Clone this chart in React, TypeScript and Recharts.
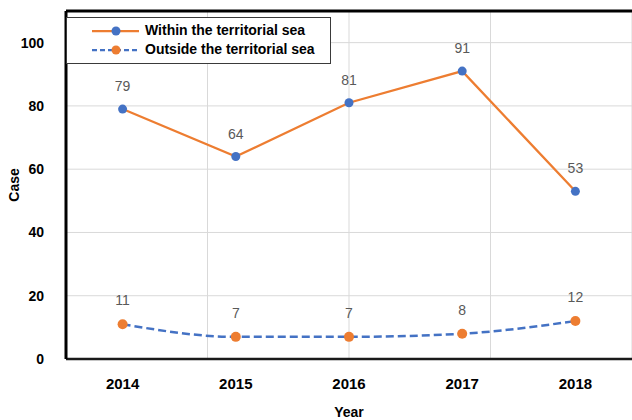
import React from 'react';
import { LineChart, Line, XAxis, YAxis, CartesianGrid, Legend, LabelList, ReferenceLine } from 'recharts';

const years = ['2014', '2015', '2016', '2017', '2018'];
const withinSea = [79, 64, 81, 91, 53];
const outsideSea = [11, 7, 7, 8, 12];
const yTicks = [0, 20, 40, 60, 80, 100];
const seriesNames = ['Within the territorial sea', 'Outside the territorial sea'];

const data = years.map((y, i) => ({ year: y, within: withinSea[i], outside: outsideSea[i] }));

const ORANGE = '#ED7D31';
const BLUE = '#4472C4';
const FONT = '"Liberation Sans", Arial, sans-serif';

const LegendBox = () => (
  <div
    style={{
      width: 263,
      height: 45,
      border: '1.5px solid #3a3a3a',
      background: '#fff',
      fontFamily: FONT,
      fontWeight: 700,
      fontSize: 14,
      color: '#000',
      boxSizing: 'content-box',
    }}
  >
    {[0, 1].map((k) => (
      <div key={k} style={{ display: 'flex', alignItems: 'center', height: 19, marginTop: k === 0 ? 3 : 0 }}>
        <svg width={50} height={12} style={{ marginLeft: 25, marginRight: 3 }}>
          <line
            x1={0}
            y1={6}
            x2={47}
            y2={6}
            stroke={k === 0 ? ORANGE : BLUE}
            strokeWidth={2.25}
            strokeDasharray={k === 0 ? undefined : '5 3'}
          />
          <circle cx={24} cy={6} r={4.5} fill={k === 0 ? BLUE : ORANGE} />
        </svg>
        <span style={{ lineHeight: '19px', whiteSpace: 'nowrap' }}>{seriesNames[k]}</span>
      </div>
    ))}
  </div>
);

const CaseLabel = (props: any) => {
  const vb = props.viewBox || {};
  const cx = 14;
  const cy = (vb.y || 0) + (vb.height || 0) / 2;
  return (
    <text
      x={cx}
      y={cy}
      transform={`rotate(-90 ${cx} ${cy})`}
      textAnchor="middle"
      dominantBaseline="central"
      fontFamily={FONT}
      fontWeight={700}
      fontSize={14}
      fill="#000"
    >
      Case
    </text>
  );
};

export default function App() {
  return (
    <div style={{ position: 'absolute', left: 0, top: 0, width: 632, height: 420, background: '#fff' }}>
      <LineChart width={632} height={420} data={data} margin={{ top: 11, right: 0, bottom: 0, left: 0 }}>
        <XAxis xAxisId="grid" type="number" domain={[0, 5]} ticks={[1, 2, 3, 4]} hide allowDataOverflow />
        <CartesianGrid xAxisId="grid" stroke="#d9d9d9" strokeWidth={1} />
        <XAxis
          dataKey="year"
          scale="band"
          height={61}
          axisLine={{ stroke: '#1a1a1a', strokeWidth: 2.5 }}
          tickLine={false}
          tickMargin={13}
          tick={{ fontFamily: FONT, fontWeight: 700, fontSize: 15, fill: '#000' }}
          label={{
            value: 'Year',
            position: 'insideBottom',
            offset: 3,
            style: { fontFamily: FONT, fontWeight: 700, fontSize: 14, fill: '#000' },
          }}
        />
        <YAxis
          width={66}
          domain={[0, 110]}
          ticks={yTicks}
          interval={0}
          axisLine={{ stroke: '#000', strokeWidth: 3 }}
          tickLine={false}
          tickMargin={16}
          tick={{ fontFamily: FONT, fontWeight: 700, fontSize: 14, fill: '#000' }}
          label={<CaseLabel />}
        />
        <ReferenceLine y={110} stroke="#000" strokeWidth={3} ifOverflow="extendDomain" />
        <Line
          type="linear"
          dataKey="within"
          stroke={ORANGE}
          strokeWidth={2.25}
          dot={{ r: 4.5, fill: BLUE, stroke: BLUE, strokeWidth: 0 }}
          activeDot={false}
          isAnimationActive={false}
        >
          <LabelList dataKey="within" position="top" offset={18} style={{ fontFamily: FONT, fontSize: 14, fill: '#595959' }} />
        </Line>
        <Line
          type="monotone"
          dataKey="outside"
          stroke={BLUE}
          strokeWidth={2.5}
          strokeDasharray="8 4"
          dot={{ r: 5, fill: ORANGE, stroke: ORANGE, strokeWidth: 0 }}
          activeDot={false}
          isAnimationActive={false}
        >
          <LabelList dataKey="outside" position="top" offset={19} style={{ fontFamily: FONT, fontSize: 14, fill: '#595959' }} />
        </Line>
        <Legend
          content={<LegendBox />}
          layout="horizontal"
          verticalAlign="middle"
          align="center"
          wrapperStyle={{ position: 'absolute', left: 66, top: 17, width: 'auto', height: 'auto' }}
        />
      </LineChart>
    </div>
  );
}
